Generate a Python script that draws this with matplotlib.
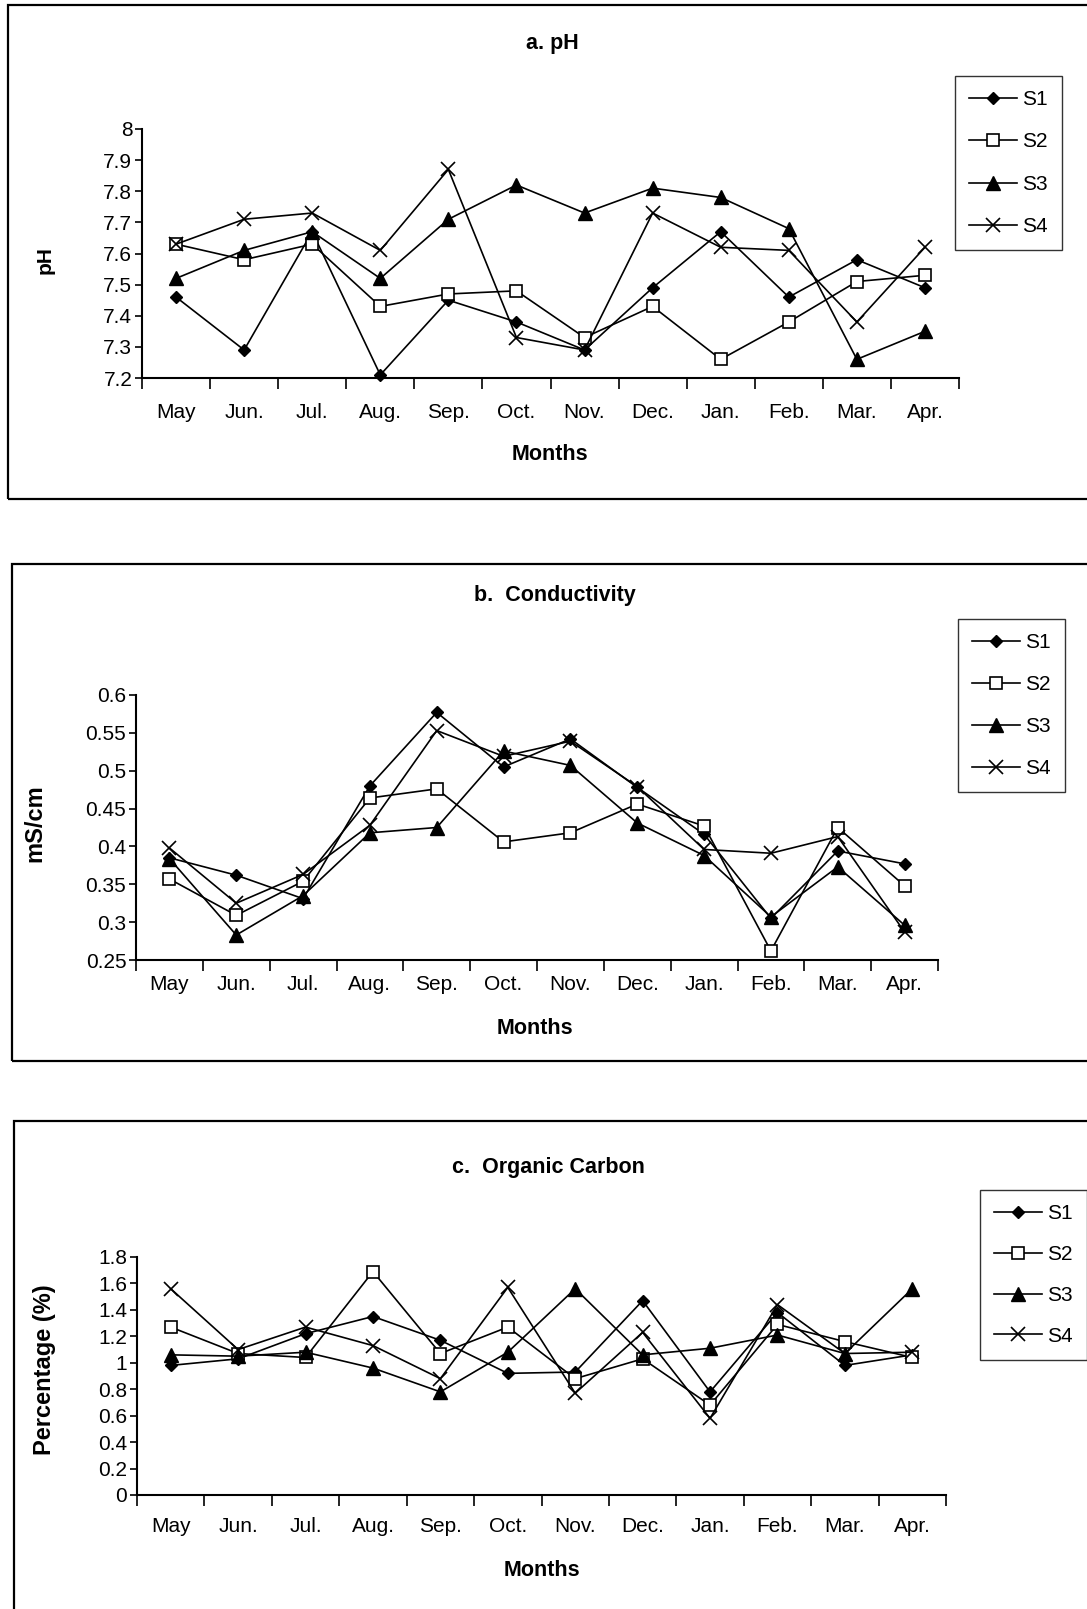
import matplotlib
matplotlib.use("Agg")
import matplotlib.pyplot as plt
from matplotlib.patches import Rectangle
from matplotlib.ticker import FixedLocator, FuncFormatter, NullFormatter

plt.rcParams['font.family'] = ['Liberation Sans', 'DejaVu Sans']

months = ["May", "Jun.", "Jul.", "Aug.", "Sep.", "Oct.", "Nov.", "Dec.", "Jan.", "Feb.", "Mar.", "Apr."]
series_names = ["S1", "S2", "S3", "S4"]

ph_s1 = [7.46, 7.29, 7.67, 7.21, 7.45, 7.38, 7.29, 7.49, 7.67, 7.46, 7.58, 7.49]
ph_s2 = [7.63, 7.58, 7.63, 7.43, 7.47, 7.48, 7.33, 7.43, 7.26, 7.38, 7.51, 7.53]
ph_s3 = [7.52, 7.61, 7.67, 7.52, 7.71, 7.82, 7.73, 7.81, 7.78, 7.68, 7.26, 7.35]
ph_s4 = [7.63, 7.71, 7.73, 7.61, 7.87, 7.33, 7.29, 7.73, 7.62, 7.61, 7.38, 7.62]

cond_s1 = [0.385, 0.362, 0.331, 0.480, 0.577, 0.505, 0.542, 0.478, 0.416, 0.305, 0.394, 0.377]
cond_s2 = [0.357, 0.309, 0.354, 0.464, 0.476, 0.406, 0.418, 0.456, 0.427, 0.262, 0.425, 0.348]
cond_s3 = [0.384, 0.283, 0.335, 0.418, 0.425, 0.526, 0.507, 0.431, 0.388, 0.307, 0.373, 0.296]
cond_s4 = [0.398, 0.325, 0.363, 0.428, 0.553, 0.519, 0.539, 0.479, 0.396, 0.391, 0.413, 0.287]

oc_s1 = [0.98, 1.03, 1.22, 1.35, 1.17, 0.92, 0.93, 1.47, 0.78, 1.38, 0.98, 1.06]
oc_s2 = [1.27, 1.07, 1.04, 1.69, 1.07, 1.27, 0.88, 1.03, 0.68, 1.29, 1.16, 1.04]
oc_s3 = [1.06, 1.05, 1.08, 0.96, 0.78, 1.08, 1.56, 1.06, 1.11, 1.21, 1.07, 1.56]
oc_s4 = [1.56, 1.10, 1.27, 1.13, 0.88, 1.57, 0.77, 1.23, 0.58, 1.44, 1.07, 1.08]

ph_ticks = [7.2, 7.3, 7.4, 7.5, 7.6, 7.7, 7.8, 7.9, 8.0]
cond_ticks = [0.25, 0.3, 0.35, 0.4, 0.45, 0.5, 0.55, 0.6]
oc_ticks = [0, 0.2, 0.4, 0.6, 0.8, 1.0, 1.2, 1.4, 1.6, 1.8]

W, H = 1087, 1609
fig = plt.figure(figsize=(W / 100, H / 100), dpi=100)

def fx(x):
    return x / W

def fy(y):
    return 1 - y / H

def axes_px(l, t, r, b):
    return fig.add_axes([fx(l), fy(b), (r - l) / W, (b - t) / H])

styles = [
    dict(marker='D', markersize=6.5, markerfacecolor='black', markeredgecolor='black'),
    dict(marker='s', markersize=9, markerfacecolor='white', markeredgecolor='black', markeredgewidth=1.2),
    dict(marker='^', markersize=9.5, markerfacecolor='black', markeredgecolor='black'),
    dict(marker='x', markersize=10, markerfacecolor='black', markeredgecolor='black', markeredgewidth=1.2),
]

def panel(box, ax_px, data, ticks, title, title_xy, months_xy, ylabel, ylabel_xy, leg_xy, xpad, lspace):
    l, t, r, b = box
    fig.patches.append(Rectangle((fx(l), fy(b)), (r - l) / W, (b - t) / H, transform=fig.transFigure,
                                 fill=False, edgecolor='black', lw=1.6, clip_on=False))
    ax = axes_px(*ax_px)
    x = list(range(len(months)))
    handles = []
    for i, (name, vals) in enumerate(zip(series_names, data)):
        ln, = ax.plot(x, vals, color='black', lw=1.2, clip_on=False, zorder=3 + i, **styles[i])
        handles.append(ln)
    ax.set_xlim(-0.5, len(months) - 0.5)
    ax.set_ylim(ticks[0], ticks[-1])
    ax.yaxis.set_major_locator(FixedLocator(ticks))
    ax.yaxis.set_major_formatter(FuncFormatter(lambda v, p: ('%g' % round(v, 3))))
    ax.xaxis.set_major_locator(FixedLocator([i - 0.5 for i in range(len(months) + 1)]))
    ax.xaxis.set_major_formatter(NullFormatter())
    ax.xaxis.set_minor_locator(FixedLocator(x))
    ax.set_xticklabels(months, minor=True)
    ax.tick_params(axis='x', which='major', length=8, width=1.2, direction='out')
    ax.tick_params(axis='x', which='minor', length=0, pad=xpad, labelsize=15)
    ax.tick_params(axis='y', which='major', length=5, width=1.2, direction='out', pad=2, labelsize=15)
    for s in ['top', 'right']:
        ax.spines[s].set_visible(False)
    for s in ['left', 'bottom']:
        ax.spines[s].set_linewidth(1.5)
    ax.patch.set_alpha(0)
    fig.text(fx(title_xy[0]), fy(title_xy[1]), title, ha='center', va='center', fontsize=15.5, fontweight='bold')
    fig.text(fx(months_xy[0]), fy(months_xy[1]), "Months", ha='center', va='center', fontsize=15.5, fontweight='bold')
    fig.text(fx(ylabel_xy[0]), fy(ylabel_xy[1]), ylabel, ha='center', va='center', rotation=90,
             fontsize=ylabel_xy[2], fontweight='bold')
    leg = fig.legend(handles, series_names, loc='upper left', bbox_to_anchor=(fx(leg_xy[0]), fy(leg_xy[1])),
                     bbox_transform=fig.transFigure, fontsize=15, frameon=True, fancybox=False,
                     edgecolor='black', handlelength=2.3, handletextpad=0.25, labelspacing=lspace,
                     borderpad=0.68, borderaxespad=0)
    leg.get_frame().set_linewidth(1.0)
    return ax

panel((8, 5, 1100, 499), (142, 129, 959, 378), [ph_s1, ph_s2, ph_s3, ph_s4], ph_ticks,
      "a. pH", (552, 43), (550, 455), "pH", (45, 260, 15), (955, 76), 18, 1.12)

panel((12, 564, 1100, 1061), (136, 695, 938, 960), [cond_s1, cond_s2, cond_s3, cond_s4], cond_ticks,
      "b.  Conductivity", (555, 595), (535, 1029), "mS/cm", (35, 823, 17), (958, 619), 11, 1.1)

panel((14, 1121, 1100, 1700), (137, 1257, 946, 1495), [oc_s1, oc_s2, oc_s3, oc_s4], oc_ticks,
      "c.  Organic Carbon", (548, 1168), (542, 1570), "Percentage (%)", (45, 1370, 17), (980, 1190), 16, 1.05)

fig.savefig("out.png", dpi=100)
